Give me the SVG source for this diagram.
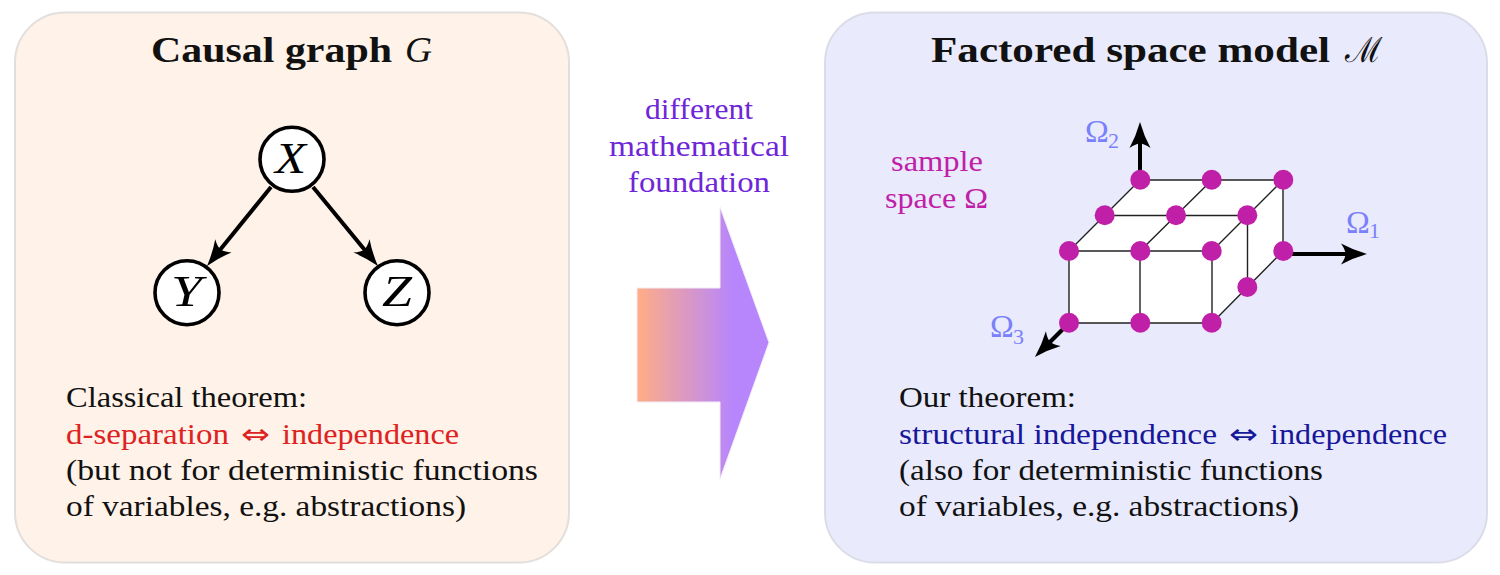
<svg xmlns="http://www.w3.org/2000/svg" width="1500" height="575" viewBox="0 0 1500 575">
<style>
text{font-family:"Liberation Serif","DejaVu Serif",serif;font-size:30px;fill:#111}
.t{font-weight:bold;font-size:35px}
.m{font-style:italic;font-size:44px;fill:#000}
.iff{font-family:"DejaVu Sans",sans-serif;font-size:29px}
.red{fill:#dd2222}.blue{fill:#17179a}.pur{fill:#6f25d8}.mag{fill:#c020a8}
.om{fill:#7a80fb;font-size:32px}.sub{fill:#7a80fb;font-size:22px}
.n{fill:#fff;stroke:#000;stroke-width:3.6}
.e{fill:none;stroke:#000;stroke-width:4}
.g{fill:none;stroke:#222;stroke-width:1.4}
.d{fill:#c020a8}
</style>
<defs>
<linearGradient id="ag" gradientUnits="userSpaceOnUse" x1="637" y1="0" x2="732" y2="0"><stop offset="0" stop-color="#ffad85"/><stop offset="1" stop-color="#b886fc"/></linearGradient>
<marker id="h" markerUnits="userSpaceOnUse" markerWidth="30" markerHeight="24" viewBox="0 -12 30 24" refX="16" refY="0" orient="auto"><path d="M26,0 Q12,4 0,10.500 Q4.500,4 4.500,0 Q4.500,-4 0,-10.500 Q12,-4 26,0Z" fill="#000"/></marker>
</defs>
<g id="panel-left"><rect x="15" y="12.500" width="554" height="550" rx="50" fill="#fff2e8" stroke="#e2dedb" stroke-width="2"/>
<text class="t" x="151" y="62" textLength="241" lengthAdjust="spacingAndGlyphs">Causal graph</text><text class="t" x="405" y="62" textLength="27" lengthAdjust="spacingAndGlyphs" style="font-weight:normal;font-style:italic">G</text></g>
<g id="panel-right"><rect x="825" y="12.500" width="662" height="550" rx="50" fill="#e9eafc" stroke="#dcdce8" stroke-width="2"/>
<text class="t" x="931" y="62" textLength="399" lengthAdjust="spacingAndGlyphs">Factored space model</text><text class="t" x="1345" y="62" textLength="37" lengthAdjust="spacingAndGlyphs" style="font-weight:normal">ℳ</text></g>
<g id="connectors">
<line class="e" x1="271" y1="187" x2="213.300" y2="258.200" marker-end="url(#h)"/>
<line class="e" x1="313" y1="187" x2="371.600" y2="258.300" marker-end="url(#h)"/>
<line class="e" x1="1140" y1="180" x2="1140" y2="132" marker-end="url(#h)"/>
<line class="e" x1="1283" y1="254" x2="1357" y2="254" marker-end="url(#h)"/>
<line class="e" x1="1069" y1="323" x2="1042" y2="350" marker-end="url(#h)"/>
</g>
<g id="node-x"><circle class="n" cx="292" cy="159.300" r="32"/><text class="m" x="275" y="173" textLength="31" lengthAdjust="spacingAndGlyphs">X</text></g>
<g id="node-y"><circle class="n" cx="187" cy="292.700" r="32"/><text class="m" x="171" y="306" textLength="31" lengthAdjust="spacingAndGlyphs">Y</text></g>
<g id="node-z"><circle class="n" cx="397" cy="292.700" r="32"/><text class="m" x="382" y="306" textLength="30" lengthAdjust="spacingAndGlyphs">Z</text></g>
<g id="text-left">
<text x="66" y="407" textLength="241" lengthAdjust="spacingAndGlyphs">Classical theorem:</text>
<text class="red" x="66" y="444" textLength="163" lengthAdjust="spacingAndGlyphs">d-separation</text><text class="red iff" x="241" y="444" textLength="29" lengthAdjust="spacingAndGlyphs">⇔</text><text class="red" x="282" y="444" textLength="177" lengthAdjust="spacingAndGlyphs">independence</text>
<text x="66" y="480" textLength="472" lengthAdjust="spacingAndGlyphs">(but not for deterministic functions</text>
<text x="66" y="516" textLength="400" lengthAdjust="spacingAndGlyphs">of variables, e.g. abstractions)</text>
</g>
<g id="arrow"><path d="M637,288H720V207L769,342.500L720,479V402H637Z" fill="url(#ag)" stroke="#f1ecf6" stroke-width="1"/>
<text class="pur" x="645" y="119" textLength="108" lengthAdjust="spacingAndGlyphs">different</text>
<text class="pur" x="609" y="156" textLength="180" lengthAdjust="spacingAndGlyphs">mathematical</text>
<text class="pur" x="628" y="192" textLength="142" lengthAdjust="spacingAndGlyphs">foundation</text></g>
<g id="cube">
<path d="M1069,251L1140,180H1283V251L1212,323H1069Z" fill="#fff"/>
<path class="g" d="M1140,180H1283M1105,215.500H1247M1069,251H1212M1069,323H1212M1069,251V323M1140,251V323M1212,251V323M1247.500,215V287M1283,180V251M1069,251L1140,180M1140,251L1212,180M1212,251L1283,180M1212,323L1283,251"/>
<circle class="d" cx="1140.300" cy="179.700" r="10"/><circle class="d" cx="1211.700" cy="179.700" r="10"/><circle class="d" cx="1283.300" cy="179.700" r="10"/>
<circle class="d" cx="1104.700" cy="215.300" r="10"/><circle class="d" cx="1176" cy="215.300" r="10"/><circle class="d" cx="1247.300" cy="215.300" r="10"/>
<circle class="d" cx="1069" cy="251" r="10"/><circle class="d" cx="1140.300" cy="251" r="10"/><circle class="d" cx="1211.700" cy="251" r="10"/><circle class="d" cx="1283.300" cy="251" r="10"/>
<circle class="d" cx="1247.300" cy="287" r="10"/>
<circle class="d" cx="1069" cy="322.700" r="10"/><circle class="d" cx="1140.300" cy="322.700" r="10"/><circle class="d" cx="1211.700" cy="322.700" r="10"/>
</g>
<g id="labels-cube">
<text class="mag" x="891" y="171" textLength="92" lengthAdjust="spacingAndGlyphs">sample</text>
<text class="mag" x="885" y="208" textLength="103" lengthAdjust="spacingAndGlyphs">space Ω</text>
<text class="om" x="1085" y="142">Ω</text><text class="sub" x="1108" y="148">2</text>
<text class="om" x="1346" y="233">Ω</text><text class="sub" x="1369" y="238">1</text>
<text class="om" x="990" y="337">Ω</text><text class="sub" x="1013" y="344">3</text>
</g>
<g id="text-right">
<text x="899" y="407" textLength="177" lengthAdjust="spacingAndGlyphs">Our theorem:</text>
<text class="blue" x="899" y="444" textLength="318" lengthAdjust="spacingAndGlyphs">structural independence</text><text class="blue iff" x="1229" y="444" textLength="29" lengthAdjust="spacingAndGlyphs">⇔</text><text class="blue" x="1270" y="444" textLength="177" lengthAdjust="spacingAndGlyphs">independence</text>
<text x="899" y="480" textLength="424" lengthAdjust="spacingAndGlyphs">(also for deterministic functions</text>
<text x="899" y="516" textLength="400" lengthAdjust="spacingAndGlyphs">of variables, e.g. abstractions)</text>
</g>
</svg>
